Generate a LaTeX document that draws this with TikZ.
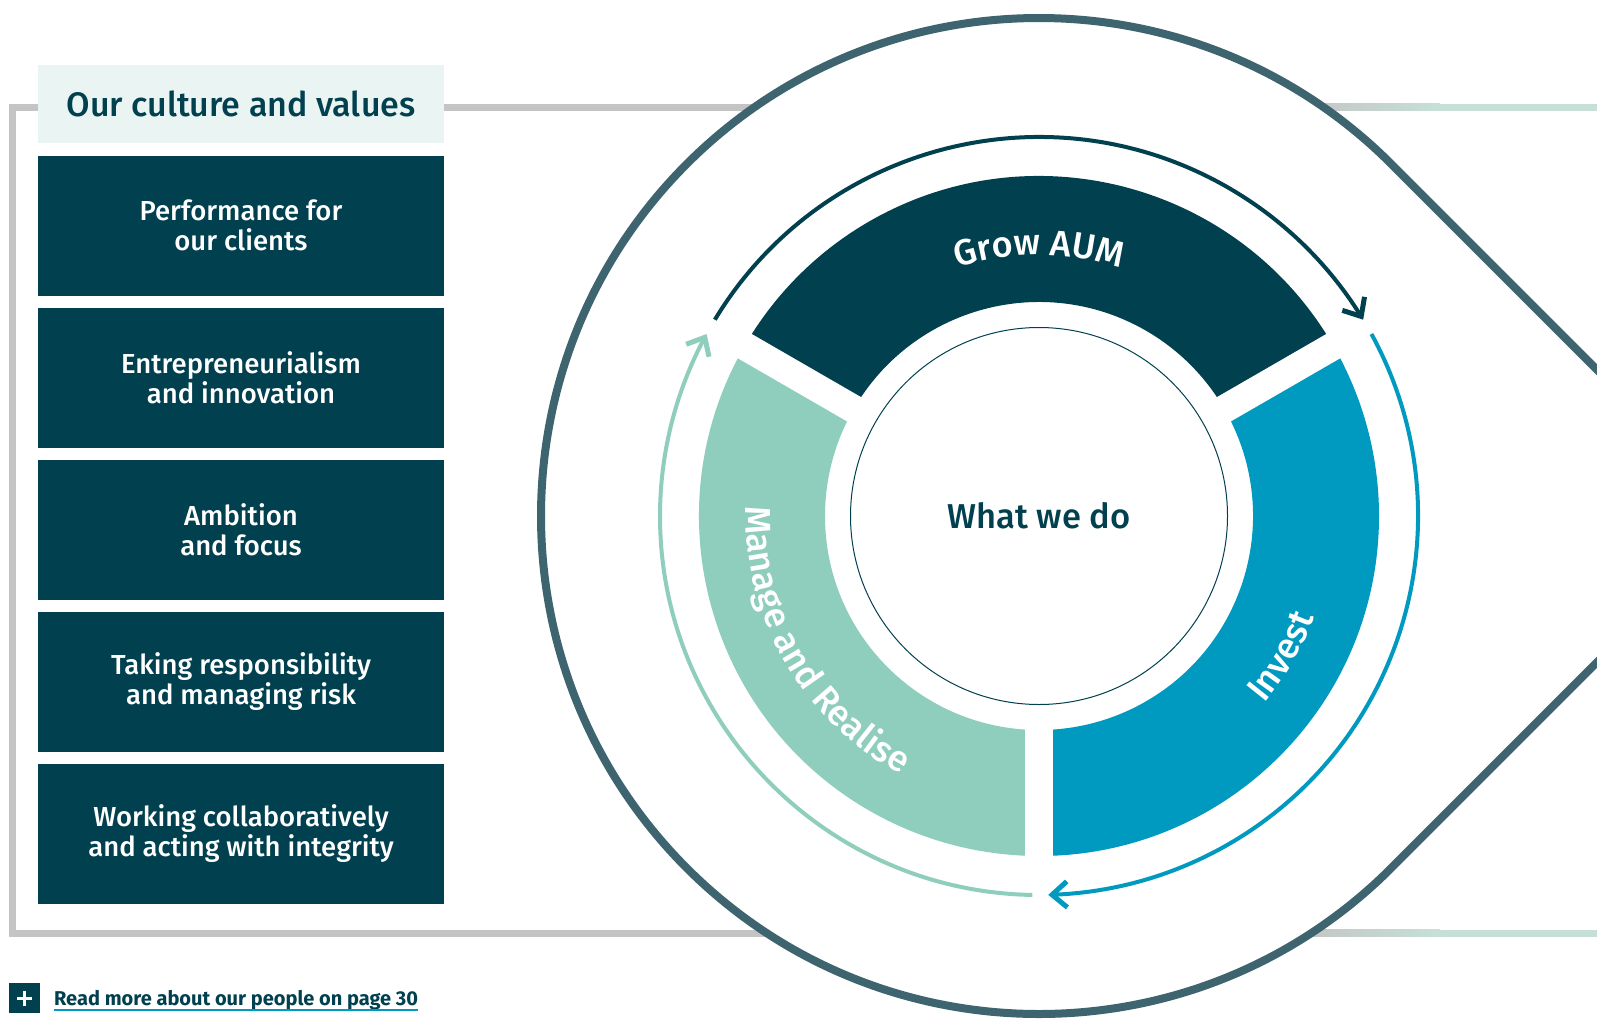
\documentclass[tikz,border=0pt]{standalone}
\usepackage{fontspec}
\setmainfont{Fira Sans}[UprightFont={* Medium}, BoldFont={* SemiBold}]
\newfontfamily\linkfont{Fira Sans Bold}
\usetikzlibrary{calc,arrows.meta,bending,decorations.text}

\definecolor{ink}{HTML}{01404F}
\definecolor{seablue}{HTML}{0099BF}
\definecolor{mint}{HTML}{8FCDBC}
\definecolor{slate}{HTML}{3E6470}
\definecolor{paleteal}{HTML}{EAF4F2}
\definecolor{framegray}{HTML}{C4C4C4}
\definecolor{framegreen}{HTML}{C6E0D8}

\newcommand\segfont{\fontsize{36}{36}\selectfont}

\begin{document}
\begin{tikzpicture}[x=1pt,y=1pt,
  frameline/.style={line width=7, line join=miter, line cap=butt},
  valbox/.style={fill=ink, text=white, minimum width=406, minimum height=139.5,
    inner sep=0, align=center, font=\fontsize{27.5}{30}\selectfont},
  titlebox/.style={fill=paleteal, text=ink, minimum width=406, minimum height=78,
    inner sep=0, font=\fontsize{34}{34}\selectfont},
  cycarrow/.style={line width=4, -{Straight Barb[length=15pt,width=26pt,line width=5pt]}},
  seglabel/.style={decorate, decoration={text along path, text align=center,
    text color=white, text={|\segfont|#1}}}
]
\useasboundingbox (0,0) rectangle (1597,-1018);
\coordinate (c) at (1039,-516);

% outer frame behind the values column
\draw[frameline, framegray] (820,-107) -- (12.5,-107) -- (12.5,-933) -- (820,-933);
\shade[left color=framegray, right color=framegreen] (1300,-103.5) rectangle (1440,-110.5);
\shade[left color=framegray, right color=framegreen] (1300,-929.5) rectangle (1440,-936.5);
\fill[framegreen] (1440,-103.5) rectangle (1597,-110.5);
\fill[framegreen] (1440,-929.5) rectangle (1597,-936.5);

% teardrop around the business model
\draw[slate, line width=8, fill=white, line join=round]
  ($(c)+(45:498)$) -- ($(c)+(704.3,0)$) -- ($(c)+(-45:498)$)
  arc[start angle=-45, end angle=-315, radius=498] -- cycle;

% ring segments
\fill[ink] ($(c)+(30:340)$) arc[start angle=30, end angle=150, radius=340]
  -- ($(c)+(150:214)$) arc[start angle=150, end angle=30, radius=214] -- cycle;
\fill[seablue] ($(c)+(-90:340)$) arc[start angle=-90, end angle=30, radius=340]
  -- ($(c)+(30:214)$) arc[start angle=30, end angle=-90, radius=214] -- cycle;
\fill[mint] ($(c)+(150:340)$) arc[start angle=150, end angle=270, radius=340]
  -- ($(c)+(270:214)$) arc[start angle=270, end angle=150, radius=214] -- cycle;
\foreach \a in {30,150,270}
  \draw[white, line width=28] ($(c)+(\a:200)$) -- ($(c)+(\a:352)$);

% segment labels
\path[seglabel={Grow AUM}] ($(c)+(135:261)$) arc[start angle=135, end angle=45, radius=261];
\path[seglabel={Invest}] ($(c)+(-60:293)$) arc[start angle=-60, end angle=0, radius=293];
\path[seglabel={Manage and Realise}] ($(c)+(160:293)$) arc[start angle=160, end angle=260, radius=293];

% cycle arrows
\draw[cycarrow, ink] ($(c)+(148.8:379)$) arc[start angle=148.8, end angle=31.2, radius=379];
\draw[cycarrow, seablue] ($(c)+(28.7:379)$) arc[start angle=28.7, end angle=-88.6, radius=379];
\draw[cycarrow, mint] ($(c)+(-91:379)$) arc[start angle=-91, end angle=-208.7, radius=379];

% centre
\draw[ink, line width=1] (c) circle[radius=188.5];
\node[text=ink, font=\fontsize{34.5}{34.5}\selectfont] (core) at (c) {What we do};

% culture and values column
\node[titlebox] (title) at (241,-104) {Our culture and values};
\node[valbox] (v1) at (241,-225.75) {Performance for\\our clients};
\node[valbox] (v2) at (241,-377.75) {Entrepreneurialism\\and innovation};
\node[valbox] (v3) at (241,-529.75) {Ambition\\and focus};
\node[valbox] (v4) at (241,-681.75) {Taking responsibility\\and managing risk};
\node[valbox] (v5) at (241,-833.75) {Working collaboratively\\and acting with integrity};

% read-more link
\node[fill=ink, minimum width=31, minimum height=30, inner sep=0] (plus) at (24.5,-998) {};
\draw[white, line width=3] ($(plus.center)+(-7.5,0)$) -- ($(plus.center)+(7.5,0)$);
\draw[white, line width=3] ($(plus.center)+(0,-7.5)$) -- ($(plus.center)+(0,7.5)$);
\node[anchor=base west, inner sep=0, text=ink, font=\linkfont\fontsize{20}{20}\selectfont]
  (link) at (54,-1005) {Read more about our people on page 30};
\draw[seablue, line width=1.5] ($(link.base west)+(0,-5)$) -- ($(link.base east)+(0,-5)$);
\end{tikzpicture}
\end{document}
